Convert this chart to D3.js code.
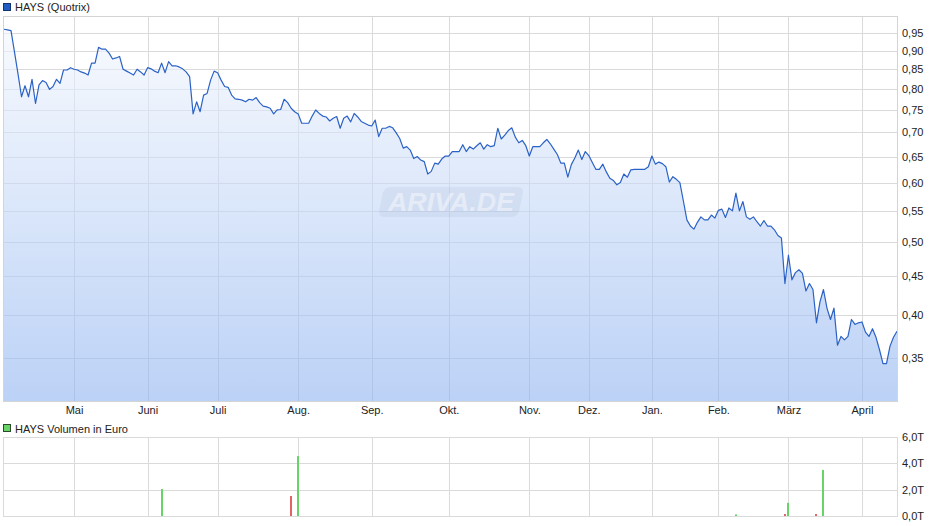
<!DOCTYPE html>
<html><head><meta charset="utf-8">
<script src="https://cdn.jsdelivr.net/npm/d3@7/dist/d3.min.js"></script>
<style>
html,body{margin:0;padding:0;background:#fff;}
svg{display:block;font-family:"Liberation Sans",Arial,sans-serif;}
</style></head>
<body>
<svg id="chart" width="940" height="526"></svg>
<script>
// ---- data (trading-day index based) ----
const priceValues = [
0.961,0.959,0.957,0.896,0.838,0.781,0.808,0.781,0.824,0.765,
0.810,0.821,0.816,0.799,0.806,0.824,0.814,0.848,0.848,0.854,
0.850,0.848,0.843,0.840,0.835,0.866,0.866,0.909,0.904,0.904,
0.893,0.877,0.880,0.884,0.850,0.845,0.840,0.835,0.850,0.843,
0.835,0.854,0.851,0.845,0.841,0.866,0.841,0.870,0.859,0.859,
0.856,0.851,0.843,0.831,0.741,0.769,0.746,0.785,0.789,0.822,
0.845,0.841,0.822,0.806,0.804,0.785,0.776,0.775,0.773,0.769,
0.775,0.773,0.779,0.767,0.759,0.757,0.754,0.741,0.750,0.751,
0.775,0.767,0.754,0.746,0.741,0.720,0.720,0.720,0.736,0.750,
0.742,0.736,0.734,0.725,0.731,0.735,0.709,0.731,0.736,0.723,
0.742,0.734,0.724,0.720,0.716,0.714,0.727,0.691,0.709,0.709,
0.713,0.710,0.699,0.687,0.667,0.670,0.663,0.646,0.650,0.643,
0.640,0.616,0.621,0.637,0.635,0.645,0.651,0.651,0.660,0.660,
0.660,0.674,0.660,0.670,0.665,0.672,0.678,0.665,0.674,0.670,
0.672,0.709,0.686,0.694,0.704,0.710,0.690,0.678,0.683,0.672,
0.651,0.670,0.670,0.670,0.678,0.685,0.676,0.665,0.654,0.637,
0.637,0.610,0.634,0.647,0.663,0.644,0.660,0.652,0.638,0.625,
0.625,0.635,0.620,0.608,0.604,0.596,0.600,0.616,0.610,0.624,
0.625,0.625,0.625,0.625,0.630,0.651,0.635,0.639,0.636,0.630,
0.601,0.611,0.606,0.600,0.567,0.535,0.525,0.520,0.531,0.540,
0.535,0.535,0.543,0.538,0.551,0.553,0.539,0.555,0.550,0.581,
0.550,0.566,0.540,0.536,0.540,0.532,0.525,0.534,0.525,0.525,
0.519,0.510,0.506,0.440,0.480,0.445,0.455,0.459,0.454,0.430,
0.440,0.432,0.390,0.416,0.432,0.408,0.394,0.408,0.364,0.374,
0.370,0.374,0.394,0.388,0.390,0.391,0.379,0.374,0.383,0.373,
0.359,0.344,0.344,0.363,0.373,0.380
];
const monthTickIndex = [20, 41, 61, 84, 105, 127, 150, 167, 185, 204, 224, 245];
const monthLabels = ["Mai","Juni","Juli","Aug.","Sep.","Okt.","Nov.","Dez.","Jan.","Feb.","März","April"];
const priceTicks = [0.35,0.40,0.45,0.50,0.55,0.60,0.65,0.70,0.75,0.80,0.85,0.90,0.95];
const priceDomain = [0.3067, 1.001];

const volumeIndex = [45, 82, 84, 209, 223, 224, 232, 234];
const volumeValues = [2.05, 1.52, 4.55, 0.12, 0.15, 1.0, 0.15, 3.5];   // in T (Tausend)
const volumeUp =     [true, false, true, true, false, true, false, true];
const volumeTicks = [0, 2, 4, 6];
const volumeDomain = [0, 6];

const priceLegend = "HAYS (Quotrix)";
const volumeLegend = "HAYS Volumen in Euro";
const watermark = "ARIVA.DE";

// ---- layout ----
const svg = d3.select("#chart");
const P = {l:3, r:898, t:16, b:401};
const V = {l:3, r:898, t:437, b:516};
const N = priceValues.length;

const x = d3.scaleLinear().domain([0, N-1]).range([4, 897]);
const y = d3.scaleLog().domain(priceDomain).range([P.b, P.t]);
const yv = d3.scaleLinear().domain(volumeDomain).range([V.b, V.t]);

const comma = s => s.replace(".", ",");
const gridColor = "#dadada";
const textColor = "#222";

// gradient
const defs = svg.append("defs");
const grad = defs.append("linearGradient").attr("id","fillGrad")
  .attr("gradientUnits","userSpaceOnUse").attr("x1",0).attr("x2",0).attr("y1",P.t).attr("y2",P.b);
grad.append("stop").attr("offset","0%").attr("stop-color","#f6f9fe");
grad.append("stop").attr("offset","100%").attr("stop-color","#8eb3f0");

// ---- price panel grid ----
const gGrid = svg.append("g");
gGrid.selectAll("line.h").data(priceTicks).join("line")
  .attr("x1",P.l).attr("x2",P.r).attr("y1",d=>Math.round(y(d))+0.5).attr("y2",d=>Math.round(y(d))+0.5)
  .attr("stroke",gridColor);
gGrid.selectAll("line.v").data(monthTickIndex).join("line")
  .attr("x1",d=>Math.round(x(d))+0.5).attr("x2",d=>Math.round(x(d))+0.5).attr("y1",P.t).attr("y2",P.b)
  .attr("stroke",gridColor);

// area
const area = d3.area().x((d,i)=>x(i)).y0(P.b).y1(d=>y(d));
svg.append("path").datum(priceValues).attr("d",area).attr("fill","url(#fillGrad)").attr("fill-opacity",0.6);

// watermark
const wm = svg.append("g").attr("transform","translate(451,202)");
wm.append("rect").attr("x",-70).attr("y",-15).attr("width",140).attr("height",30).attr("rx",6)
  .attr("transform","skewX(-12)").attr("fill","#8a9cbc").attr("fill-opacity",0.12);
wm.append("text").attr("text-anchor","middle").attr("y",9).attr("font-size",25).attr("font-weight","bold")
  .attr("font-style","italic").attr("fill","#ffffff").attr("fill-opacity",0.45)
  .attr("textLength",126).attr("lengthAdjust","spacingAndGlyphs").text(watermark);

// line
const line = d3.line().x((d,i)=>x(i)).y(d=>y(d));
svg.append("path").datum(priceValues).attr("d",line).attr("fill","none")
  .attr("stroke","#2b62c6").attr("stroke-width",1.2).attr("stroke-linejoin","round");

// frame
svg.append("rect").attr("x",P.l+0.5).attr("y",P.t+0.5).attr("width",P.r-P.l-1).attr("height",P.b-P.t)
  .attr("fill","none").attr("stroke","#d4d4d4");

// axes
const yAxis = d3.axisRight(y).tickValues(priceTicks).tickSize(0).tickPadding(4)
  .tickFormat(d=>comma(d3.format(".2f")(d)));
const gy = svg.append("g").attr("transform",`translate(${P.r},0)`).call(yAxis);
gy.select(".domain").remove();
gy.selectAll("text").attr("font-size",11).attr("fill",textColor).attr("font-family","Liberation Sans, Arial, sans-serif");

const xAxis = d3.axisBottom(x).tickValues(monthTickIndex).tickSize(0).tickPadding(5)
  .tickFormat((d,i)=>monthLabels[i]);
const gx = svg.append("g").attr("transform",`translate(0,${P.b})`).call(xAxis);
gx.select(".domain").remove();
gx.selectAll("text").attr("font-size",11).attr("fill",textColor).attr("font-family","Liberation Sans, Arial, sans-serif");

// legend price
svg.append("rect").attr("x",3.5).attr("y",3.5).attr("width",7).attr("height",7)
  .attr("fill","#1f5cc4").attr("stroke","#15346e");
svg.append("text").attr("x",15).attr("y",11).attr("font-size",11).attr("fill",textColor).text(priceLegend);

// ---- volume panel ----
const gv = svg.append("g");
gv.selectAll("line.h").data(volumeTicks).join("line")
  .attr("x1",V.l).attr("x2",V.r).attr("y1",d=>Math.round(yv(d))+0.5).attr("y2",d=>Math.round(yv(d))+0.5)
  .attr("stroke",gridColor);
gv.selectAll("line.v").data(monthTickIndex).join("line")
  .attr("x1",d=>Math.round(x(d))+0.5).attr("x2",d=>Math.round(x(d))+0.5).attr("y1",V.t).attr("y2",V.b)
  .attr("stroke",gridColor);
gv.append("line").attr("x1",V.l+0.5).attr("x2",V.l+0.5).attr("y1",V.t).attr("y2",V.b).attr("stroke",gridColor);
gv.append("line").attr("x1",V.r-0.5).attr("x2",V.r-0.5).attr("y1",V.t).attr("y2",V.b).attr("stroke",gridColor);

gv.selectAll("rect.bar").data(volumeIndex).join("rect")
  .attr("x",d=>Math.round(x(d))-1).attr("width",2)
  .attr("y",(d,i)=>yv(volumeValues[i])).attr("height",(d,i)=>yv(0)-yv(volumeValues[i]))
  .attr("fill",(d,i)=>volumeUp[i] ? "#66d466" : "#e06464");

const vAxis = d3.axisRight(yv).tickValues(volumeTicks).tickSize(0).tickPadding(4)
  .tickFormat(d=>comma(d3.format(".1f")(d))+"T");
const gva = svg.append("g").attr("transform",`translate(${V.r},0)`).call(vAxis);
gva.select(".domain").remove();
gva.selectAll("text").attr("font-size",11).attr("fill",textColor).attr("font-family","Liberation Sans, Arial, sans-serif");

svg.append("rect").attr("x",3.5).attr("y",424.5).attr("width",7).attr("height",7)
  .attr("fill","#66d466").attr("stroke","#2a4a2a");
svg.append("text").attr("x",15).attr("y",432.5).attr("font-size",11).attr("fill",textColor).text(volumeLegend);
</script>
</body></html>
